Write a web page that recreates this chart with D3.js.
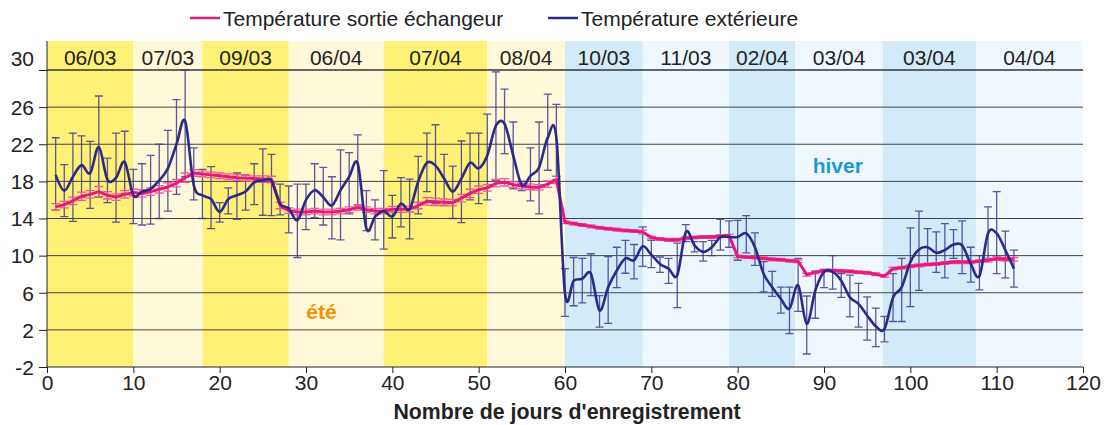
<!DOCTYPE html>
<html><head><meta charset="utf-8">
<script src="https://cdn.jsdelivr.net/npm/d3@7"></script>
<style>
html,body{margin:0;padding:0;background:#fff;}
svg{display:block;font-family:"Liberation Sans",Arial,sans-serif;}
</style></head>
<body><svg id="c" width="1107" height="425"></svg>
<script>
// ---- data ----
const days = d3.range(1, 113);
const exterieure = [18.7,17.0,18.5,19.75,18.9,21.7,18.2,18.4,20.1,16.5,16.9,17.2,18.1,19.4,22.0,24.5,17.6,16.5,16.1,14.7,16.1,16.5,16.9,17.9,18.1,18.1,15.6,15.1,13.8,16.0,17.05,16.3,15.4,17.05,18.5,19.9,12.9,14.2,14.8,14.2,15.6,15.0,18.0,20.0,19.7,18.3,16.9,18.3,20.0,19.4,20.8,24.0,24.2,20.8,17.6,18.6,19.5,22.7,22.7,5.9,7.3,7.5,8.05,4.1,6.6,8.4,9.7,9.5,11.0,10.1,9.1,8.6,7.9,12.55,11.1,10.4,10.9,12.0,12.0,12.0,12.4,10.9,8.05,6.6,5.35,4.3,6.8,2.65,6.25,8.25,8.25,7.3,5.5,4.8,3.55,2.4,2.1,5.5,6.6,9.3,10.65,10.9,10.3,10.6,11.2,11.1,9.1,7.8,12.4,12.4,10.6,8.6];
const exterieureHigh = [22.7,19.8,23.2,22.9,22.3,27.2,20.5,23.2,23.4,19.3,19.9,20.8,22.0,23.5,26.8,30.0,21.6,19.3,19.6,15.7,17.3,18.9,18.7,19.9,21.5,20.9,17.7,17.5,17.7,17.7,19.9,19.5,18.5,21.4,21.1,23.0,17.0,16.0,19.15,16.5,18.4,18.25,20.7,23.2,24.1,20.9,19.65,22.35,23.2,23.2,25.25,29.8,27.95,24.4,18.0,21.6,24.4,27.4,26.3,8.6,9.8,9.7,10.2,5.7,9.9,10.9,11.65,11.2,13.1,11.65,9.85,9.7,11.35,13.35,11.5,11.5,11.65,13.9,13.75,13.8,14.3,12.45,9.35,8.3,6.6,6.6,9.7,5.65,8.3,8.5,10.0,8.05,7.9,7.0,5.55,4.35,3.45,8.05,9.7,13.0,14.8,12.9,12.55,13.45,12.8,13.75,10.9,10.0,15.25,16.9,12.65,10.6];
const exterieureLow = [14.9,14.2,13.7,16.3,15.1,16.3,15.7,13.6,16.7,13.45,13.3,13.4,14.0,14.8,16.6,18.5,16.0,14.0,12.9,13.6,14.5,13.9,14.9,15.5,14.35,14.3,14.4,12.45,9.8,12.8,14.1,13.3,11.8,11.7,14.5,15.35,12.7,11.7,10.7,11.9,13.1,11.8,14.5,16.9,15.6,15.4,14.0,13.55,16.0,15.6,16.0,18.1,21.0,17.2,17.0,15.9,14.5,19.2,18.2,3.45,4.6,4.9,5.7,2.3,2.7,6.55,8.1,7.5,8.85,8.7,8.2,7.0,4.4,11.5,10.4,9.4,10.0,10.6,10.9,9.5,10.3,8.95,6.1,5.6,3.8,1.6,4.0,-0.6,3.25,6.55,6.4,5.5,3.4,2.3,0.9,0.2,0.7,2.9,2.9,4.5,6.25,9.1,8.2,7.6,9.7,8.05,7.15,6.3,9.7,8.05,7.6,6.6];
const sortie = [15.25,15.5,15.9,16.4,16.6,16.9,16.5,16.3,16.6,16.8,16.7,16.9,17.15,17.4,17.8,18.4,18.9,18.8,18.7,18.6,18.5,18.4,18.35,18.3,18.25,18.2,15.4,14.85,14.7,14.7,14.8,14.7,14.7,14.8,14.95,15.2,14.95,14.8,14.8,15.0,15.0,15.0,15.4,15.85,15.8,15.75,15.7,16.2,16.7,17.1,17.3,17.8,17.9,17.65,17.5,17.4,17.35,17.7,18.15,13.6,13.45,13.3,13.15,13.0,12.9,12.8,12.7,12.65,12.55,11.95,11.8,11.7,11.7,11.9,11.95,12.0,12.0,12.1,12.15,9.9,9.85,9.8,9.7,9.6,9.55,9.45,9.4,7.95,8.2,8.4,8.4,8.35,8.3,8.2,8.15,8.0,7.8,8.6,8.7,8.85,8.95,9.05,9.1,9.2,9.3,9.3,9.3,9.4,9.5,9.7,9.6,9.6];
const sortieErr = [0.35,0.35,0.4,0.45,0.4,0.55,0.4,0.35,0.4,0.35,0.4,0.4,0.4,0.45,0.4,0.5,0.35,0.3,0.3,0.3,0.3,0.3,0.3,0.3,0.35,0.35,0.35,0.3,0.3,0.3,0.3,0.3,0.3,0.3,0.3,0.3,0.3,0.3,0.3,0.3,0.35,0.3,0.35,0.4,0.4,0.35,0.35,0.4,0.45,0.4,0.35,0.4,0.4,0.3,0.3,0.3,0.3,0.35,0.4,0.15,0.15,0.15,0.15,0.15,0.15,0.15,0.15,0.15,0.2,0.15,0.15,0.15,0.15,0.15,0.15,0.15,0.15,0.15,0.15,0.15,0.15,0.15,0.15,0.15,0.15,0.15,0.15,0.15,0.15,0.15,0.15,0.15,0.15,0.15,0.15,0.15,0.15,0.15,0.15,0.15,0.15,0.15,0.15,0.15,0.15,0.15,0.15,0.15,0.2,0.2,0.2,0.2];
const bandStarts = [0,10,18,28,39,51,60,69,79,86.7,96.8,107.6];
const bandEnds   = [10,18,28,39,51,60,69,79,86.7,96.8,107.6,120];
const bandLabels = ["06/03","07/03","09/03","06/04","07/04","08/04","10/03","11/03","02/04","03/04","03/04","04/04"];
const bandSeason = ["ete","ete","ete","ete","ete","ete","hiver","hiver","hiver","hiver","hiver","hiver"];
const yTicks = [-2,2,6,10,14,18,22,26,30];
const xTicks = [0,10,20,30,40,50,60,70,80,90,100,110,120];
const seriesNames = ["Température sortie échangeur","Température extérieure"];

// ---- drawing ----
const FS = 21;
const svg = d3.select("#c");
const x = d3.scaleLinear().domain([0,120]).range([47,1083]);
const y = d3.scaleLinear().domain([-2,30]).range([367,70]);
const bandTop = 41;
const bandColors = {ete:["#fff176","#fff8d9"], hiver:["#d3eaf8","#eff8fe"]};

const bands = bandLabels.map((l,i)=>({l, s:bandStarts[i], e:bandEnds[i], season:bandSeason[i], i}));
svg.append("g").selectAll("rect").data(bands).join("rect")
  .attr("x", d=>x(d.s)).attr("width", d=>x(d.e)-x(d.s))
  .attr("y", bandTop).attr("height", y(-2)-bandTop)
  .attr("fill", d=>bandColors[d.season][d.i%2]);

svg.append("g").selectAll("text").data(bands).join("text")
  .attr("x", d=>x((d.s+d.e)/2)).attr("y", 64.5)
  .attr("text-anchor","middle").attr("font-size",FS).attr("fill","#222")
  .text(d=>d.l);

// gridlines
svg.append("g").selectAll("line").data(yTicks.filter(t=>t>-2)).join("line")
  .attr("x1", x(0)).attr("x2", x(120)).attr("y1", d=>y(d)).attr("y2", d=>y(d))
  .attr("stroke", d=>d===30?"#333":"#444").attr("stroke-width", d=>d===30?1.3:1);

// season labels
svg.append("text").attr("x", x(31.8)).attr("y", y(3.2)).attr("text-anchor","middle")
  .attr("font-size",21).attr("font-weight","bold").attr("fill","#f39200").text("été");
svg.append("text").attr("x", x(91.6)).attr("y", y(18.9)).attr("text-anchor","middle")
  .attr("font-size",21).attr("font-weight","bold").attr("fill","#1a98d5").text("hiver");

// axes
const yAxis = svg.append("g").attr("transform", `translate(${x(0)},0)`)
  .call(d3.axisLeft(y).tickValues(yTicks).tickSize(8).tickPadding(5).tickFormat(d=>String(d)));
yAxis.select(".domain").attr("d", `M0,${bandTop}V${y(-2)}`).attr("stroke","#222");
yAxis.selectAll(".tick line").attr("stroke","#222");
yAxis.selectAll(".tick text").attr("font-size",FS).attr("fill","#222")
  .attr("font-family","Liberation Sans, Arial, sans-serif")
  .attr("dy", d=>d===30?"-0.22em":"0.35em");

const xAxis = svg.append("g").attr("transform", `translate(0,${y(-2)})`)
  .call(d3.axisBottom(x).tickValues(xTicks).tickSize(6).tickPadding(2).tickFormat(d=>String(d)));
xAxis.select(".domain").attr("d", `M${x(0)},0H${x(120)}`).attr("stroke","#222");
xAxis.selectAll(".tick line").attr("stroke","#222");
xAxis.selectAll(".tick text").attr("font-size",FS).attr("fill","#222")
  .attr("font-family","Liberation Sans, Arial, sans-serif");

svg.append("text").attr("x", 567).attr("y", 419).attr("text-anchor","middle")
  .attr("font-size",FS+0.3).attr("font-weight","bold").attr("fill","#222")
  .text("Nombre de jours d'enregistrement");

// blue error bars
const ext = days.map((d,i)=>({d, v:exterieure[i], hi:exterieureHigh[i], lo:exterieureLow[i]}));
const gb = svg.append("g").attr("stroke","#3d3b92").attr("stroke-width",1.3).attr("fill","none");
gb.selectAll("path").data(ext).join("path")
  .attr("d", p=>{const X=x(p.d), a=y(p.hi), b=y(p.lo);
    return `M${X},${a}V${b}M${X-4},${a}H${X+4}M${X-4},${b}H${X+4}`;})
  .attr("stroke-opacity",0.85);

// pink error bars
const sor = days.map((d,i)=>({d, v:sortie[i], e:sortieErr[i]}));
const gp = svg.append("g").attr("stroke","#f0589f").attr("stroke-width",1.3).attr("fill","none");
gp.selectAll("path").data(sor).join("path")
  .attr("d", p=>{const X=x(p.d), a=y(p.v+p.e), b=y(p.v-p.e);
    return `M${X},${a}V${b}M${X-4.5},${a}H${X+4.5}M${X-4.5},${b}H${X+4.5}`;});

// pink line
svg.append("path").datum(sor)
  .attr("d", d3.line().x(p=>x(p.d)).y(p=>y(p.v)))
  .attr("fill","none").attr("stroke","#e8177d").attr("stroke-width",3).attr("stroke-linejoin","round");

// blue line
svg.append("path").datum(ext)
  .attr("d", d3.line().x(p=>x(p.d)).y(p=>y(p.v)).curve(d3.curveCatmullRom.alpha(0)))
  .attr("fill","none").attr("stroke","#2b2a88").attr("stroke-width",2.6).attr("stroke-linejoin","round");

// legend
const leg = [{n:seriesNames[0], c:"#e8177d", x:190},{n:seriesNames[1], c:"#2b2a88", x:548}];
const lg = svg.append("g").selectAll("g").data(leg).join("g");
lg.append("line").attr("x1",d=>d.x).attr("x2",d=>d.x+30).attr("y1",18).attr("y2",18)
  .attr("stroke",d=>d.c).attr("stroke-width",2.5);
lg.append("text").attr("x",d=>d.x+33).attr("y",25.5).attr("font-size",FS).attr("fill","#222").text(d=>d.n);
</script></body></html>
